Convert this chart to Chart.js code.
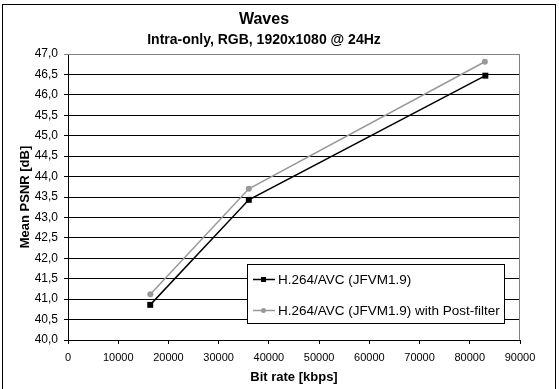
<!DOCTYPE html>
<html lang="en">
  <head>
    <meta charset="UTF-8" />
    <title>Waves</title>
    <style>
      html, body { margin: 0; padding: 0; background: #fff; }
      #wrap { width: 559px; height: 389px; }
    </style>
  </head>
  <body>
    <div id="wrap"><canvas id="chart" width="559" height="389"></canvas></div>

    <script src="https://cdn.jsdelivr.net/npm/chart.js@4.4.1/dist/chart.umd.min.js"></script>
    <script>
      // values
      const seriesNames = ["H.264/AVC (JFVM1.9)", "H.264/AVC (JFVM1.9) with Post-filter"];
      const bitrateBase = [16370, 36000, 83100];
      const psnrBase = [40.86, 43.43, 46.47];
      const bitratePost = [16400, 36000, 83000];
      const psnrPost = [41.12, 43.7, 46.81];
      const xTicks = [0, 10000, 20000, 30000, 40000, 50000, 60000, 70000, 80000, 90000];
      const yTicks = [40, 40.5, 41, 41.5, 42, 42.5, 43, 43.5, 44, 44.5, 45, 45.5, 46, 46.5, 47];

      const font = "'Liberation Sans', Arial, sans-serif";

      function toPoints(xs, ys) {
        return xs.map((x, i) => ({ x: x, y: ys[i] }));
      }

      // white page, outer frame and gray plot border
      const frame = {
        id: "frame",
        beforeDraw(chart) {
          const c = chart.ctx;
          c.save();
          c.fillStyle = "#fff";
          c.fillRect(0, 0, chart.width, chart.height);
          c.strokeStyle = "#000";
          c.lineWidth = 1;
          c.strokeRect(2.5, 4.5, 553, 420);
          c.restore();
        },
        beforeDatasetsDraw(chart) {
          const a = chart.chartArea;
          const c = chart.ctx;
          c.save();
          c.strokeStyle = "#808080";
          c.lineWidth = 1;
          c.beginPath();
          c.moveTo(a.left, a.top + 0.5);
          c.lineTo(a.right - 0.5, a.top + 0.5);
          c.lineTo(a.right - 0.5, a.bottom);
          c.stroke();
          c.restore();
        },
      };

      // boxed legend sitting inside the plot
      const boxLegend = {
        id: "boxLegend",
        afterDatasetsDraw(chart) {
          const c = chart.ctx;
          const bx = 247.5, by = 264.5, bw = 257, bh = 59;
          c.save();
          c.fillStyle = "#fff";
          c.fillRect(bx, by, bw, bh);
          c.strokeStyle = "#000";
          c.lineWidth = 1;
          c.strokeRect(bx, by, bw, bh);
          const rows = [279.5, 310.5];
          chart.data.datasets.forEach((ds, i) => {
            const y = rows[i];
            c.strokeStyle = ds.borderColor;
            c.lineWidth = 1.5;
            c.beginPath();
            c.moveTo(253, y);
            c.lineTo(275, y);
            c.stroke();
            c.fillStyle = ds.pointBackgroundColor;
            if (ds.pointStyle === "rect") {
              c.fillRect(261, y - 2.5, 5, 5);
            } else {
              c.beginPath();
              c.arc(263.5, y, 2.5, 0, Math.PI * 2);
              c.fill();
            }
            c.fillStyle = "#000";
            c.font = "13.5px " + font;
            c.textBaseline = "middle";
            c.textAlign = "left";
            c.fillText(ds.label, 278, y + 0.5);
          });
          c.restore();
        },
      };

      new Chart(document.getElementById("chart"), {
        type: "scatter",
        data: {
          datasets: [
            {
              label: seriesNames[0],
              data: toPoints(bitrateBase, psnrBase),
              showLine: true,
              borderColor: "#000",
              backgroundColor: "#000",
              borderWidth: 1.5,
              pointStyle: "rect",
              pointRadius: 4.2,
              pointBackgroundColor: "#000",
              pointBorderColor: "#000",
              pointBorderWidth: 0,
            },
            {
              label: seriesNames[1],
              data: toPoints(bitratePost, psnrPost),
              showLine: true,
              borderColor: "#999",
              backgroundColor: "#999",
              borderWidth: 1.5,
              pointStyle: "circle",
              pointRadius: 3,
              pointBackgroundColor: "#999",
              pointBorderColor: "#999",
              pointBorderWidth: 0,
            },
          ],
        },
        options: {
          responsive: false,
          animation: false,
          layout: { padding: { left: 8, right: 39, top: 0, bottom: 0 } },
          plugins: {
            legend: { display: false },
            tooltip: { enabled: false },
            title: {
              display: true,
              text: "Waves",
              color: "#000",
              font: { family: font, size: 16, weight: "bold" },
              padding: { top: 10.4, bottom: 0 },
            },
            subtitle: {
              display: true,
              text: "Intra-only, RGB, 1920x1080 @ 24Hz",
              color: "#000",
              font: { family: font, size: 14, weight: "bold" },
              padding: { top: 1.7, bottom: 5.9 },
            },
          },
          scales: {
            x: {
              type: "linear",
              min: 0,
              max: 90000,
              afterBuildTicks(scale) {
                scale.ticks = xTicks.map((v) => ({ value: v }));
              },
              afterFit(scale) {
                scale.height = 49;
              },
              border: { display: true, color: "#000", width: 1 },
              grid: { drawOnChartArea: false, drawTicks: true, tickLength: 4, color: "#000" },
              ticks: {
                color: "#000",
                font: { family: font, size: 11 },
                padding: 7,
                maxRotation: 0,
                autoSkip: false,
                callback: (v) => String(v),
              },
              title: {
                display: true,
                text: "Bit rate [kbps]",
                color: "#000",
                font: { family: font, size: 13, weight: "bold" },
                padding: { top: 4, bottom: 4 },
              },
            },
            y: {
              type: "linear",
              min: 40,
              max: 47,
              afterBuildTicks(scale) {
                scale.ticks = yTicks.map((v) => ({ value: v }));
              },
              afterFit(scale) {
                scale.width = 60;
              },
              border: { display: true, color: "#000", width: 1 },
              grid: {
                color: (ctx) => (ctx.tick && ctx.tick.value === 47 ? "#808080" : "#000"),
                tickLength: 4,
                lineWidth: 1,
              },
              ticks: {
                color: "#000",
                font: { family: font, size: 12 },
                padding: 6,
                autoSkip: false,
                callback: (v) => v.toFixed(1).replace(".", ","),
              },
              title: {
                display: true,
                text: "Mean PSNR [dB]",
                color: "#000",
                font: { family: font, size: 13, weight: "bold" },
                padding: { top: 9.2, bottom: 4 },
              },
            },
          },
        },
        plugins: [frame, boxLegend],
      });
    </script>
  </body>
</html>
